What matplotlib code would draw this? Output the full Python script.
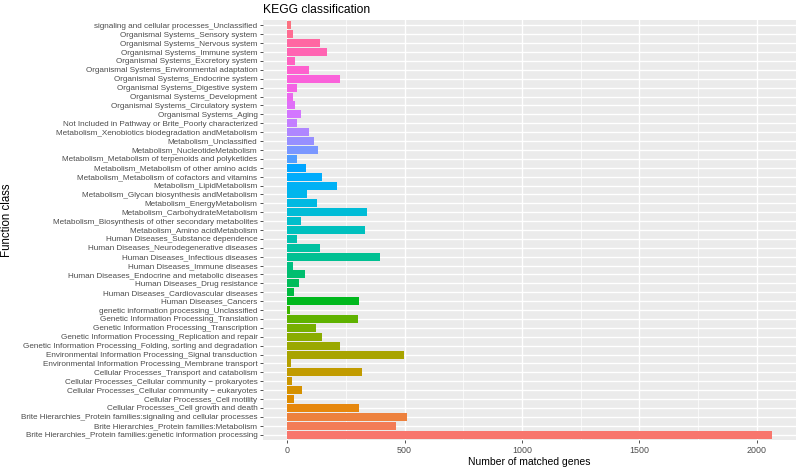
import numpy as np
import matplotlib
matplotlib.use("Agg")
import matplotlib.pyplot as plt

# categories from bottom (level 1) to top (level 47)
categories = [
    "Brite Hierarchies_Protein families:genetic information processing",
    "Brite Hierarchies_Protein families:Metabolism",
    "Brite Hierarchies_Protein families:signaling and cellular processes",
    "Cellular Processes_Cell growth and death",
    "Cellular Processes_Cell motility",
    "Cellular Processes_Cellular community \u2212 eukaryotes",
    "Cellular Processes_Cellular community \u2212 prokaryotes",
    "Cellular Processes_Transport and catabolism",
    "Environmental Information Processing_Membrane transport",
    "Environmental Information Processing_Signal transduction",
    "Genetic Information Processing_Folding, sorting and degradation",
    "Genetic Information Processing_Replication and repair",
    "Genetic Information Processing_Transcription",
    "Genetic Information Processing_Translation",
    "genetic information processing_Unclassified",
    "Human Diseases_Cancers",
    "Human Diseases_Cardiovascular diseases",
    "Human Diseases_Drug resistance",
    "Human Diseases_Endocrine and metabolic diseases",
    "Human Diseases_Immune diseases",
    "Human Diseases_Infectious diseases",
    "Human Diseases_Neurodegenerative diseases",
    "Human Diseases_Substance dependence",
    "Metabolism_Amino acidMetabolism",
    "Metabolism_Biosynthesis of other secondary metabolites",
    "Metabolism_CarbohydrateMetabolism",
    "Metabolism_EnergyMetabolism",
    "Metabolism_Glycan biosynthesis andMetabolism",
    "Metabolism_LipidMetabolism",
    "Metabolism_Metabolism of cofactors and vitamins",
    "Metabolism_Metabolism of other amino acids",
    "Metabolism_Metabolism of terpenoids and polyketides",
    "Metabolism_NucleotideMetabolism",
    "Metabolism_Unclassified",
    "Metabolism_Xenobiotics biodegradation andMetabolism",
    "Not Included in Pathway or Brite_Poorly characterized",
    "Organismal Systems_Aging",
    "Organismal Systems_Circulatory system",
    "Organismal Systems_Development",
    "Organismal Systems_Digestive system",
    "Organismal Systems_Endocrine system",
    "Organismal Systems_Environmental adaptation",
    "Organismal Systems_Excretory system",
    "Organismal Systems_Immune system",
    "Organismal Systems_Nervous system",
    "Organismal Systems_Sensory system",
    "signaling and cellular processes_Unclassified",
]

counts = [
    2065, 462, 509, 306, 27, 61, 20, 318, 16, 498,
    224, 150, 123, 302, 13, 304, 30, 50, 77, 24,
    397, 139, 41, 333, 57, 338, 126, 84, 210, 150,
    82, 43, 130, 115, 91, 41, 58, 31, 24, 43,
    223, 91, 31, 169, 139, 24, 17,
]

x_ticks = [0, 500, 1000, 1500, 2000]


def hue_pal(n, c=100.0, l=65.0, h0=15.0):
    hues = np.linspace(h0, h0 + 360, n + 1)[:n]
    Xn, Yn, Zn = 95.047, 100.0, 108.883
    den = Xn + 15 * Yn + 3 * Zn
    un, vn = 4 * Xn / den, 9 * Yn / den
    out = []
    for h in hues:
        hr = np.deg2rad(h)
        U, V = c * np.cos(hr), c * np.sin(hr)
        Y = Yn * ((l + 16) / 116) ** 3 if l > 8 else Yn * l / 903.3
        up = U / (13 * l) + un
        vp = V / (13 * l) + vn
        X = 9.0 * Y * up / (4 * vp)
        Z = -X / 3 - 5 * Y + 3 * Y / vp
        xyz = np.array([X, Y, Z]) / 100.0
        M = np.array([[3.240479, -1.537150, -0.498535],
                      [-0.969256, 1.875992, 0.041556],
                      [0.055648, -0.204043, 1.057311]])
        rgb = M @ xyz
        rgb = np.where(rgb <= 0.0031308, 12.92 * rgb,
                       1.055 * np.power(np.clip(rgb, 0, None), 1 / 2.4) - 0.055)
        out.append(tuple(np.clip(rgb, 0, 1)))
    return out


plt.rcParams['font.family'] = ['Liberation Sans', 'DejaVu Sans']

fig = plt.figure(figsize=(8.0, 4.67), dpi=100)
ax = fig.add_axes([263 / 800, 1 - 440 / 467, (796 - 263) / 800, (440 - 20) / 467])
ax.set_facecolor('#EBEBEB')

n = len(categories)
y = np.arange(n)
colors = hue_pal(n)
ax.barh(y, counts, height=0.9, color=colors, zorder=3)

xmax = max(counts)
ax.set_xlim(-0.05 * xmax, 1.05 * xmax)
ax.set_ylim(-0.6, n - 1 + 0.6)

ax.set_xticks(x_ticks)
ax.set_xticks([250, 750, 1250, 1750], minor=True)
ax.set_yticks(y)
ax.set_yticklabels(categories)
ax.grid(True, which='major', color='white', linewidth=1.0, zorder=1)
ax.grid(True, which='minor', axis='x', color='white', linewidth=0.5, zorder=1)
ax.tick_params(axis='both', which='major', length=2.5, width=0.6, color='#333333',
               labelcolor='#4D4D4D', labelsize=5.9, pad=1.5)
ax.tick_params(axis='x', labelsize=6.4)
ax.tick_params(which='minor', length=0)
for s in ax.spines.values():
    s.set_visible(False)

ax.set_xlabel("Number of matched genes", fontsize=7.5, color='black', labelpad=2)
ax.set_ylabel("Function class", fontsize=8.3, color='black')
ax.yaxis.set_label_coords((13 - 263) / 533, 0.524)
ax.set_title("KEGG classification", fontsize=8.7, loc='left', color='black', pad=5)

fig.savefig("out.png", dpi=100, facecolor='white')
